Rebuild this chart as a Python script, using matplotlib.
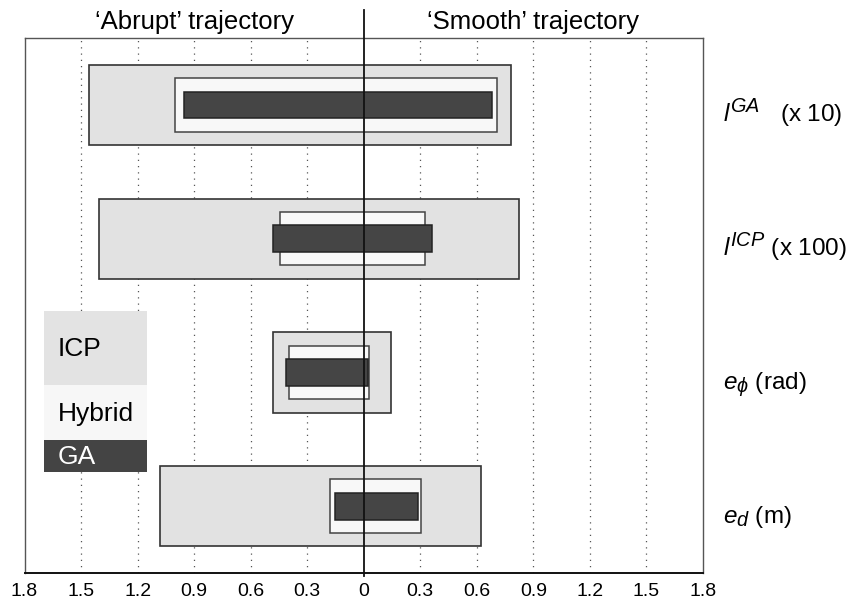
import matplotlib
matplotlib.use("Agg")
import matplotlib.pyplot as plt
from matplotlib.patches import Rectangle
from matplotlib.transforms import blended_transform_factory, offset_copy
import numpy as np

try:
    import matplotlib._mathtext as _mt
    _mt.SHRINK_FACTOR = 0.82
except Exception:
    pass

plt.rcParams['font.family'] = ['Liberation Sans', 'DejaVu Sans']
plt.rcParams['mathtext.fontset'] = 'custom'
plt.rcParams['mathtext.rm'] = 'Liberation Sans'
plt.rcParams['mathtext.it'] = 'Liberation Sans:italic'
plt.rcParams['mathtext.bf'] = 'Liberation Sans:bold'

# ---- data ----
row_labels = [r"$l^{GA}$   (x 10)", r"$l^{ICP}$ (x 100)", r"$e_{\phi}$ (rad)", r"$e_{d}$ (m)"]
methods = ["ICP", "Hybrid", "GA"]
# 'Abrupt' trajectory (drawn to the left) and 'Smooth' trajectory (drawn to the right)
icp_abrupt = [1.46, 1.405, 0.484, 1.08]
icp_smooth = [0.78, 0.825, 0.143, 0.622]
hybrid_abrupt = [1.00, 0.444, 0.396, 0.179]
hybrid_smooth = [0.709, 0.327, 0.030, 0.302]
ga_abrupt = [0.954, 0.479, 0.414, 0.154]
ga_smooth = [0.682, 0.364, 0.020, 0.286]
tick_values = [-1.8, -1.5, -1.2, -0.9, -0.6, -0.3, 0, 0.3, 0.6, 0.9, 1.2, 1.5, 1.8]
tick_labels = ["1.8", "1.5", "1.2", "0.9", "0.6", "0.3", "0", "0.3", "0.6", "0.9", "1.2", "1.5", "1.8"]
side_titles = ["\u2018Abrupt\u2019 trajectory", "\u2018Smooth\u2019 trajectory"]

fig = plt.figure(figsize=(8.57, 6.0), dpi=100)
ax = fig.add_axes([24.5 / 857, 27 / 600, (703 - 24.5) / 857, (573 - 38) / 600])

ypos = np.arange(1, len(row_labels) + 1)
styles = [
    (icp_abrupt, icp_smooth, 0.6, "#e2e2e2", "#333333", 1.2),
    (hybrid_abrupt, hybrid_smooth, 0.4, "#f8f8f8", "#444444", 1.1),
    (ga_abrupt, ga_smooth, 0.2, "#454545", "#222222", 1.1),
]
for ab, sm, h, fc, ec, lw in styles:
    ab = np.asarray(ab)
    sm = np.asarray(sm)
    ax.barh(ypos, ab + sm, left=-ab, height=h, color=fc, edgecolor=ec,
            linewidth=lw, zorder=3)

ax.set_xlim(-1.8, 1.8)
ax.set_ylim(4.5, 0.5)
ax.set_xticks(tick_values)
ax.set_xticklabels(tick_labels, fontsize=14)
ax.set_yticks([])
ax.tick_params(axis='x', length=0, pad=7)

for v in tick_values:
    if v != 0 and abs(v) < 1.8:
        ax.axvline(v, color="#555555", linestyle=(0, (1, 4)), linewidth=0.9, zorder=1)

# zero line extending above the axes
ax.axvline(0, ymin=-0.005, ymax=1.053, color="#111111", linewidth=1.3, zorder=5, clip_on=False)

for s in ["left", "top", "right"]:
    ax.spines[s].set_color("#555555")
    ax.spines[s].set_linewidth(1.0)
ax.spines["bottom"].set_color("#111111")
ax.spines["bottom"].set_linewidth(1.4)

# side titles
tr = blended_transform_factory(ax.transData, ax.transAxes)
ax.text(-0.9, 1.0 + 8.5 / 535, side_titles[0], transform=tr, ha="center", va="baseline", fontsize=18.5)
ax.text(0.9, 1.0 + 8.5 / 535, side_titles[1], transform=tr, ha="center", va="baseline", fontsize=18.5)

# row labels at the right (baseline slightly below the row centre)
tr2 = blended_transform_factory(ax.transAxes, ax.transData)
tr2 = offset_copy(tr2, fig=fig, x=0, y=-17 * 72 / 100, units="points")
for y, lab in zip(ypos, row_labels):
    ax.text(1.0 + 20 / 678.5, y, lab, transform=tr2, ha="left", va="baseline", fontsize=17.5)

# legend blocks
leg_colors = ["#e3e3e3", "#f7f7f7", "#444444"]
leg_text_colors = ["black", "black", "white"]
leg_bounds = [(310.7, 385.0), (385.0, 440.0), (440.0, 472.3)]
x0, x1 = 44.3, 146.7
for (yt, yb), fc, tc, name in zip(leg_bounds, leg_colors, leg_text_colors, methods):
    fig.patches.append(Rectangle((x0 / 857, 1 - yb / 600), (x1 - x0) / 857, (yb - yt) / 600,
                                 transform=fig.transFigure, facecolor=fc, edgecolor="none", zorder=10))
    fig.text(58 / 857, 1 - ((yt + yb) / 2 + 1) / 600, name, color=tc, fontsize=19,
             ha="left", va="center", zorder=11)

fig.savefig("out.png", dpi=100)
